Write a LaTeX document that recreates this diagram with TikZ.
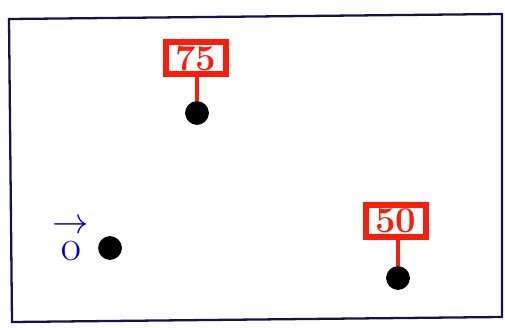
\documentclass[tikz,border=0pt]{standalone}
\usepackage{amsmath,amssymb}
\usepackage{xcolor}
\usepackage{tikz}
\definecolor{ink}{RGB}{20,20,70}
\definecolor{signred}{RGB}{250,30,10}
\tikzstyle{dot}=[draw=black,fill=black,inner sep=0pt,minimum size=0.46cm,circle]
\tikzstyle{sign}=[draw=signred,line width=3.5pt,text=signred,font=\huge\bfseries,minimum width=1.2cm,minimum height=0.64cm,inner sep=0.5pt]
\tikzstyle{post}=[draw=signred,line width=2.2pt]

\begin{document}
\begin{tikzpicture}[x=0.02cm,y=-0.02cm]
        \useasboundingbox (0,0) rectangle (505,328);
        \draw[ink,line width=1.3pt] (9,19) -- (502,14) -- (502,317) -- (12,322) -- cycle;
        % points with their values
        \node[dot] (p1) at (197,113) {};
        \node[sign] (s1) at (196,58) {75};
        \draw[post] (s1.south -| p1) -- (p1.north);
        \node[dot] (p2) at (398,278) {};
        \node[sign] (s2) at (396,221) {50};
        \draw[post] (s2.south -| p2) -- (p2.north);
        % origin
        \node[text=blue!80!black,font=\Huge] (ol) at (71,238) {$\overset{\rightarrow}{\mathrm{o}}$};
        \node[dot] (o) at (110,248) {};
      \end{tikzpicture}
\end{document}
